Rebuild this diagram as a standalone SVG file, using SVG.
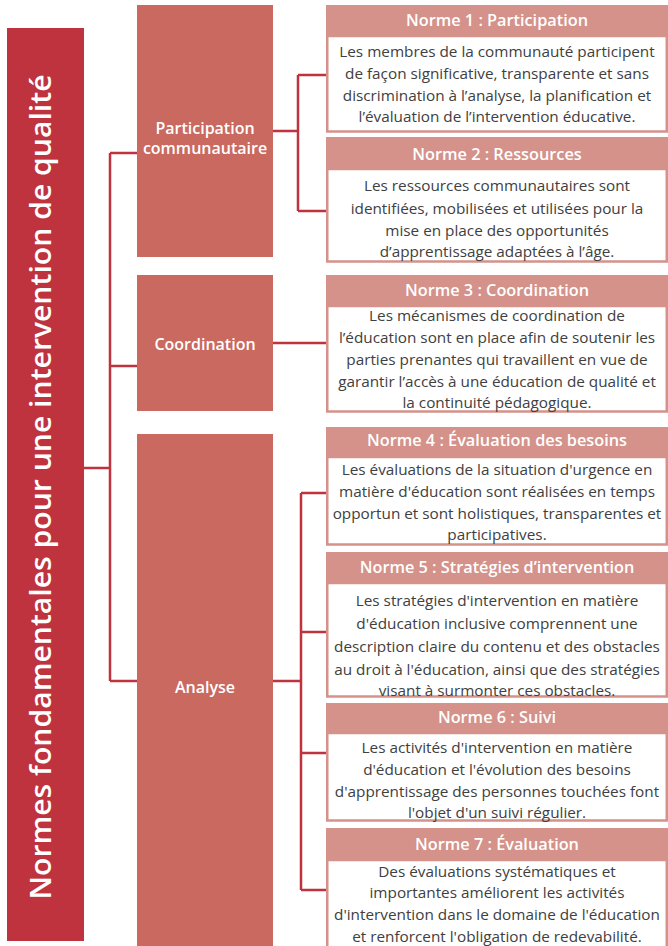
<svg xmlns="http://www.w3.org/2000/svg" width="668" height="946" viewBox="0 0 668 946">
<style>
.bar{fill:#BE333E}
.mid{fill:#C96960}
.hdr{fill:#D4928A}
.body{fill:#FFFFFF;stroke:#D4928A;stroke-width:2.5}
.ht{font-family:"Open Sans",Lato,sans-serif;font-size:16.3px;font-weight:600;fill:#FFFFFF;text-anchor:middle}
.bt{font-family:"Open Sans",Lato,sans-serif;font-size:15.3px;fill:#404040;text-anchor:middle}
.mt{font-family:"Open Sans",Lato,sans-serif;font-size:16px;font-weight:600;fill:#FFFFFF;text-anchor:middle}
.title{font-family:"Open Sans",Lato,sans-serif;font-size:29px;font-weight:600;fill:#FFFFFF;text-anchor:middle}
.conn{fill:none;stroke:#BE333E;stroke-width:2.5}
</style>
<rect width="668" height="946" fill="#FFFFFF"/>
<g id="connectors">
<path class="conn" d="M84 468H110M110 153V681M110 153H137M110 366H137M110 681H137"/>
<path class="conn" d="M273 131H298M298 75V211M298 75H327M298 211H327"/>
<path class="conn" d="M273 343H327"/>
<path class="conn" d="M273 681H301M301 493V890M301 493H327M301 632H327M301 753H327M301 890H327"/>
</g>
<g id="title">
<rect class="bar" x="7" y="28" width="77" height="913"/>
<text class="title" transform="translate(51,487) rotate(-90)" textLength="825" lengthAdjust="spacingAndGlyphs">Normes fondamentales pour une intervention de qualité</text>
</g>
<g id="participation">
<rect class="mid" x="137" y="5" width="136" height="252"/>
<text class="mt" x="205" y="134">Participation</text>
<text class="mt" x="205" y="154">communautaire</text>
</g>
<g id="coordination">
<rect class="mid" x="137" y="275" width="136" height="136"/>
<text class="mt" x="205" y="350">Coordination</text>
</g>
<g id="analyse">
<rect class="mid" x="137" y="434" width="136" height="512"/>
<text class="mt" x="205" y="693">Analyse</text>
</g>
<g id="norme1">
<rect class="body" x="327.25" y="36" width="339.5" height="95.5"/>
<rect class="hdr" x="326" y="5" width="342" height="32"/>
<text class="ht" x="497" y="26">Norme 1 : Participation</text>
<text class="bt" x="497" y="57">Les membres de la communauté participent</text>
<text class="bt" x="497" y="79">de façon significative, transparente et sans</text>
<text class="bt" x="497" y="101">discrimination à l’analyse, la planification et</text>
<text class="bt" x="497" y="122">l’évaluation de l’intervention éducative.</text>
</g>
<g id="norme2">
<rect class="body" x="327.25" y="169" width="339.5" height="92.5"/>
<rect class="hdr" x="326" y="137" width="342" height="33"/>
<text class="ht" x="497" y="160">Norme 2 : Ressources</text>
<text class="bt" x="497" y="191">Les ressources communautaires sont</text>
<text class="bt" x="497" y="214">identifiées, mobilisées et utilisées pour la</text>
<text class="bt" x="497" y="236">mise en place des opportunités</text>
<text class="bt" x="497" y="257">d’apprentissage adaptées à l’âge.</text>
</g>
<g id="norme3">
<rect class="body" x="327.25" y="306" width="339.5" height="105.5"/>
<rect class="hdr" x="326" y="275" width="342" height="32"/>
<text class="ht" x="497" y="296">Norme 3 : Coordination</text>
<text class="bt" x="497" y="321">Les mécanismes de coordination de</text>
<text class="bt" x="497" y="343">l’éducation sont en place afin de soutenir les</text>
<text class="bt" x="497" y="365">parties prenantes qui travaillent en vue de</text>
<text class="bt" x="497" y="387">garantir l’accès à une éducation de qualité et</text>
<text class="bt" x="497" y="408">la continuité pédagogique.</text>
</g>
<g id="norme4">
<rect class="body" x="327.25" y="457" width="339.5" height="87.5"/>
<rect class="hdr" x="326" y="427" width="342" height="31"/>
<text class="ht" x="497" y="446">Norme 4 : Évaluation des besoins</text>
<text class="bt" x="497" y="475">Les évaluations de la situation d'urgence en</text>
<text class="bt" x="497" y="497">matière d'éducation sont réalisées en temps</text>
<text class="bt" x="497" y="519">opportun et sont holistiques, transparentes et</text>
<text class="bt" x="497" y="540">participatives.</text>
</g>
<g id="norme5">
<rect class="body" x="327.25" y="583" width="339.5" height="113.5"/>
<rect class="hdr" x="326" y="552" width="342" height="32"/>
<text class="ht" x="497" y="573">Norme 5 : Stratégies d’intervention</text>
<text class="bt" x="497" y="606">Les stratégies d'intervention en matière</text>
<text class="bt" x="497" y="629">d'éducation inclusive comprennent une</text>
<text class="bt" x="497" y="652">description claire du contenu et des obstacles</text>
<text class="bt" x="497" y="675">au droit à l'éducation, ainsi que des stratégies</text>
<text class="bt" x="497" y="696">visant à surmonter ces obstacles.</text>
</g>
<g id="norme6">
<rect class="body" x="327.25" y="733" width="339.5" height="87.5"/>
<rect class="hdr" x="326" y="703" width="342" height="31"/>
<text class="ht" x="497" y="723">Norme 6 : Suivi</text>
<text class="bt" x="497" y="753">Les activités d'intervention en matière</text>
<text class="bt" x="497" y="775">d'éducation et l'évolution des besoins</text>
<text class="bt" x="497" y="797">d'apprentissage des personnes touchées font</text>
<text class="bt" x="497" y="818">l'objet d'un suivi régulier.</text>
</g>
<g id="norme7">
<rect class="body" x="327.25" y="860" width="339.5" height="90"/>
<rect class="hdr" x="326" y="828" width="342" height="33"/>
<text class="ht" x="497" y="850">Norme 7 : Évaluation</text>
<text class="bt" x="497" y="877">Des évaluations systématiques et</text>
<text class="bt" x="497" y="898">importantes améliorent les activités</text>
<text class="bt" x="497" y="920">d'intervention dans le domaine de l'éducation</text>
<text class="bt" x="497" y="942">et renforcent l'obligation de redevabilité.</text>
</g>
</svg>
